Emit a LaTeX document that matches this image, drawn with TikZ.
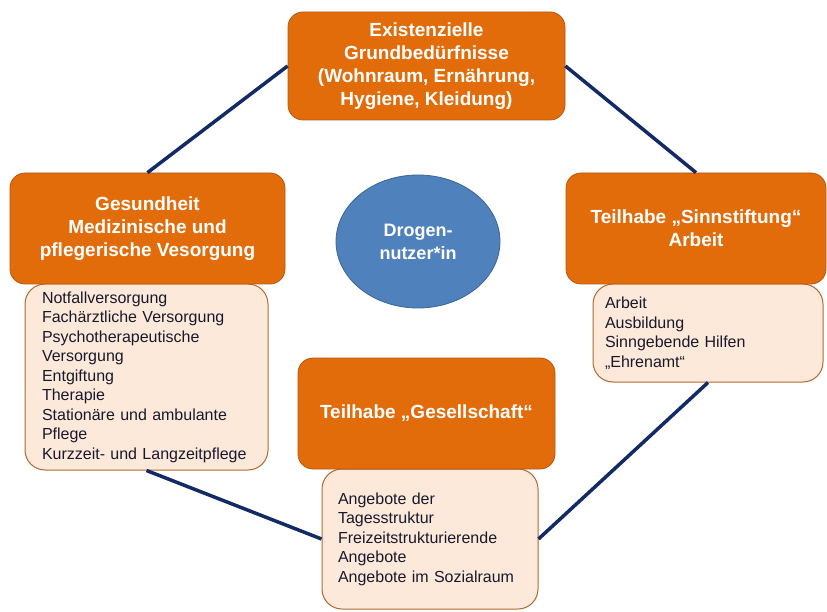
\documentclass[tikz,border=0pt]{standalone}
\usepackage{fontspec}
\setmainfont{Liberation Sans}
\usetikzlibrary{shapes.geometric}
\definecolor{hdrcol}{RGB}{227,108,10}
\definecolor{hdrline}{RGB}{180,88,20}
\definecolor{lstcol}{RGB}{253,233,217}
\definecolor{lstline}{RGB}{176,104,48}
\definecolor{usercol}{RGB}{79,129,189}
\definecolor{userline}{RGB}{60,100,150}
\definecolor{linkcol}{RGB}{18,42,102}
\definecolor{txtcol}{RGB}{25,25,45}
\tikzset{
  hdr/.style={draw=hdrline,fill=hdrcol,line width=0.8pt,rounded corners=15pt,text=white,align=center,inner sep=0pt,font=\fontsize{19}{23}\selectfont\bfseries},
  lst/.style={draw=lstline,fill=lstcol,line width=1pt,rounded corners=20pt,text=txtcol,align=left,inner ysep=0pt,font=\fontsize{16}{19.5}\selectfont},
  user/.style={ellipse,draw=userline,fill=usercol,line width=0.8pt,inner sep=0pt,text=white,align=center,font=\fontsize{18}{23}\selectfont\bfseries},
  link/.style={-,draw=linkcol,line width=3.5pt}
}
\begin{document}
\begin{tikzpicture}[x=1pt,y=-1pt]
\useasboundingbox (0,0) rectangle (827,612);
% lists under the headers
\node[lst,inner xsep=17pt,text width=209pt,minimum height=186pt](gesundl) at (146.5,377){Notfallversorgung\\Fachärztliche Versorgung\\Psychotherapeutische\\Versorgung\\Entgiftung\\Therapie\\Stationäre und ambulante\\Pflege\\Kurzzeit- und Langzeitpflege};
\node[lst,inner xsep=12pt,text width=206pt,minimum height=98pt](sinnl) at (708,333){Arbeit\\Ausbildung\\Sinngebende Hilfen\\„Ehrenamt“};
\node[lst,inner xsep=16pt,text width=184pt,minimum height=140pt](gesell l) at (430,539){Angebote der\\Tagesstruktur\\Freizeitstrukturierende\\Angebote\\Angebote im Sozialraum};
% headers
\node[hdr,minimum width=277pt,minimum height=108pt](exist) at (426.5,66){Existenzielle\\Grundbedürfnisse\\(Wohnraum, Ernährung,\\Hygiene, Kleidung)};
\node[hdr,minimum width=275pt,minimum height=111pt](gesund) at (147.5,228.5){Gesundheit\\Medizinische und\\pflegerische Vesorgung};
\node[hdr,minimum width=260pt,minimum height=111pt](sinn) at (696,228.5){Teilhabe „Sinnstiftung“\\Arbeit};
\node[hdr,minimum width=257pt,minimum height=111pt](gesell) at (426.5,413.5){Teilhabe „Gesellschaft“};
\node[user,minimum width=164pt,minimum height=133pt](nutzer) at (418,241.5){Drogen-\\nutzer*in};
\foreach \a/\b in {gesund.north/exist.west,exist.east/sinn.north,gesundl.south/gesell l.west,sinnl.south/gesell l.east}{\draw[link](\a)--(\b);}
\end{tikzpicture}
\end{document}
